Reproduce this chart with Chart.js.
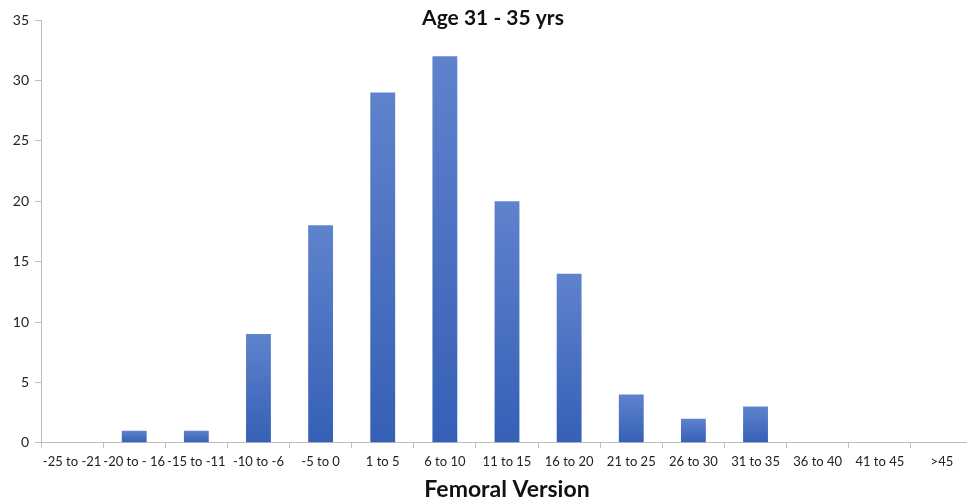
<!DOCTYPE html>
<html>
<head>
<meta charset="utf-8">
<script src="https://cdn.jsdelivr.net/npm/chart.js@4/dist/chart.umd.min.js"></script>
<style>
  html, body { margin: 0; padding: 0; background: #fff; overflow: hidden; }
  #wrap { width: 973px; height: 503px; position: relative; }
</style>
</head>
<body>
<div id="wrap"><canvas id="chart"></canvas></div>
<script>
var categories = ['-25 to -21', '-20 to - 16', '-15 to -11', '-10 to -6', '-5 to 0', '1 to 5', '6 to 10',
  '11 to 15', '16 to 20', '21 to 25', '26 to 30', '31 to 35', '36 to 40', '41 to 45', '>45'];
var counts = [0, 1, 1, 9, 18, 29, 32, 20, 14, 4, 2, 3, 0, 0, 0];
var yTicks = [0, 5, 10, 15, 20, 25, 30, 35];
var chartTitle = 'Age 31 - 35 yrs';
var xTitle = 'Femoral Version';

// title sits inside the plot, at the very top
var innerTitle = {
  id: 'innerTitle',
  afterDraw: function(chart) {
    var c = chart.ctx;
    c.save();
    c.font = 'bold 21px Lato';
    c.fillStyle = '#111';
    c.textAlign = 'center';
    c.textBaseline = 'middle';
    c.fillText(chartTitle, 493, 18);
    c.restore();
  }
};

function barFill(context) {
  var chart = context.chart;
  var y = chart.scales.y;
  if (!y || !chart.chartArea) return '#4a70c0';
  var v = context.raw || 0;
  var top = y.getPixelForValue(v);
  var bottom = y.getPixelForValue(0);
  if (bottom - top < 1) return '#4a70c0';
  var g = chart.ctx.createLinearGradient(0, top, 0, bottom);
  g.addColorStop(0, '#5f82cc');
  g.addColorStop(1, '#3560b6');
  return g;
}

new Chart(document.getElementById('chart').getContext('2d'), {
  type: 'bar',
  data: {
    labels: categories,
    datasets: [{
      data: counts,
      backgroundColor: barFill,
      borderWidth: 0,
      categoryPercentage: 1,
      barPercentage: 0.4
    }]
  },
  plugins: [innerTitle],
  options: {
    responsive: true,
    maintainAspectRatio: false,
    animation: false,
    layout: { padding: { top: 20, right: 0, left: 0, bottom: 0 } },
    plugins: {
      legend: { display: false },
      tooltip: { enabled: false }
    },
    scales: {
      x: {
        offset: true,
        grid: {
          display: true,
          drawOnChartArea: false,
          drawTicks: true,
          tickLength: 5,
          offset: true,
          color: '#bdbdbd'
        },
        border: { display: true, color: '#bdbdbd', width: 1 },
        ticks: {
          color: '#222',
          font: { family: 'Lato', size: 13 },
          maxRotation: 0,
          autoSkip: false,
          padding: 6
        },
        title: {
          display: true,
          text: xTitle,
          color: '#111',
          font: { family: 'Lato', size: 23, weight: 'bold' },
          padding: { top: 0, bottom: 0 }
        }
      },
      y: {
        min: 0,
        max: 35,
        afterBuildTicks: function(scale) {
          scale.ticks = yTicks.map(function(v) { return { value: v }; });
        },
        afterFit: function(scale) { scale.width = 41; },
        grid: {
          display: true,
          drawOnChartArea: false,
          drawTicks: true,
          tickLength: 6,
          color: '#bdbdbd'
        },
        border: { display: true, color: '#bdbdbd', width: 1 },
        ticks: {
          color: '#222',
          font: { family: 'Lato', size: 14 },
          padding: 6
        }
      }
    }
  }
});
</script>
</body>
</html>
